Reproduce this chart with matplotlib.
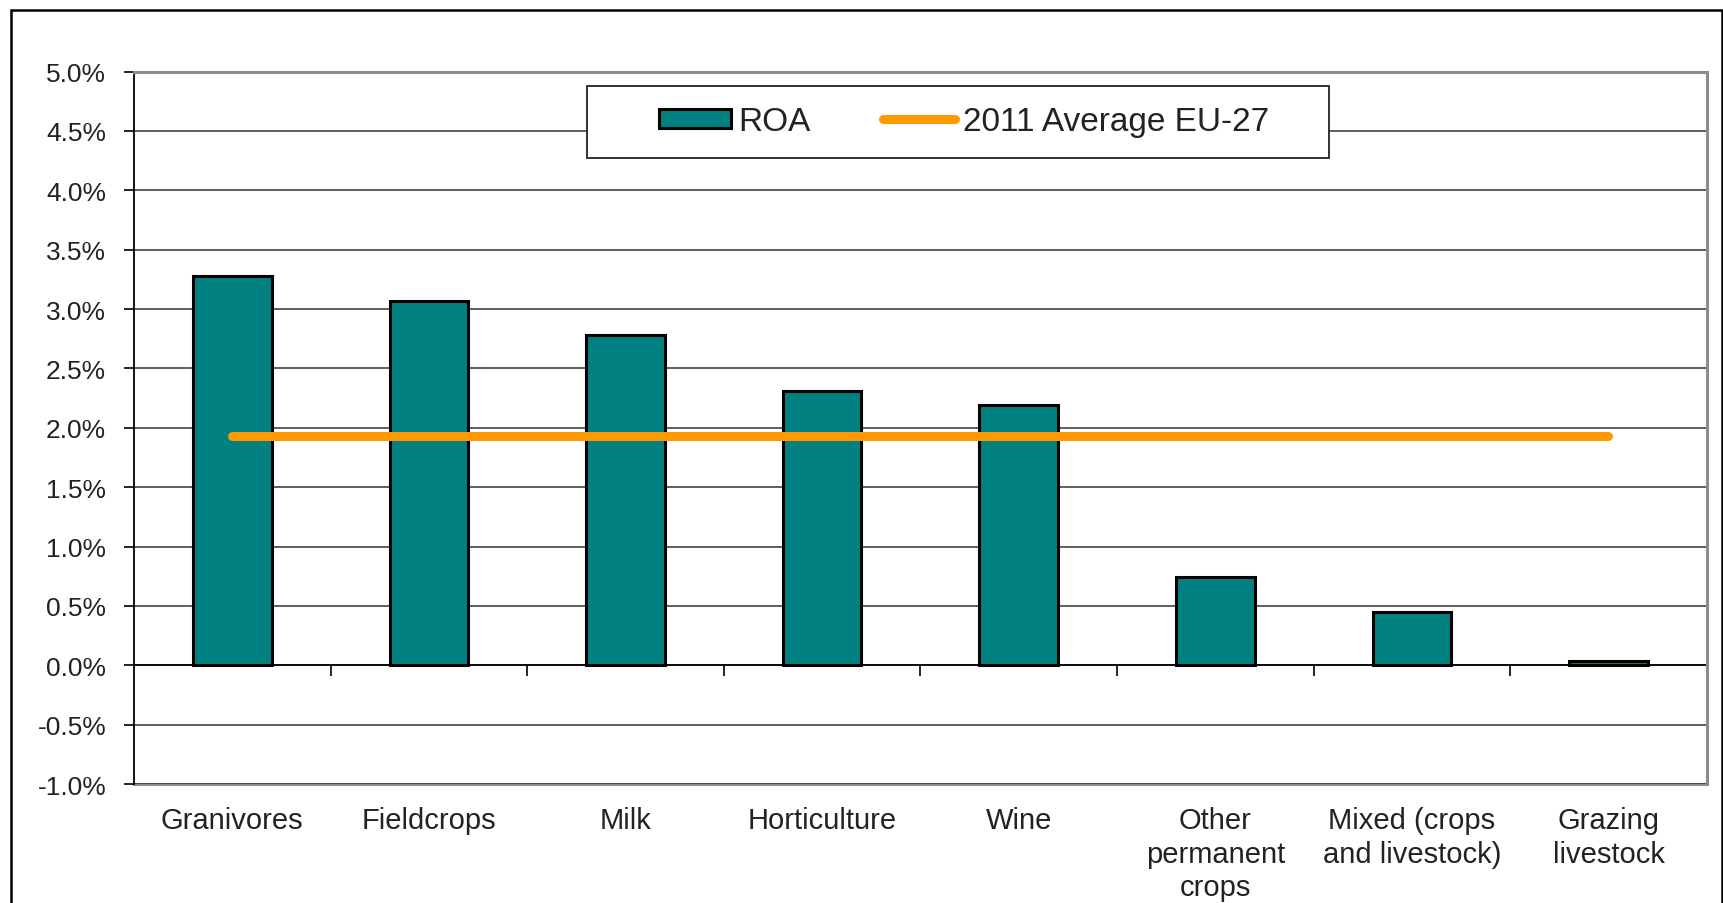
import matplotlib
matplotlib.use("Agg")
import matplotlib.pyplot as plt
from matplotlib.patches import Patch, Rectangle
from matplotlib.lines import Line2D
from matplotlib.ticker import FuncFormatter, FixedLocator

plt.rcParams['font.family'] = ['Liberation Sans', 'DejaVu Sans']

categories = ["Granivores", "Fieldcrops", "Milk", "Horticulture", "Wine",
              "Other\npermanent\ncrops", "Mixed (crops\nand livestock)",
              "Grazing\nlivestock"]
roa = [3.28, 3.07, 2.78, 2.31, 2.19, 0.74, 0.45, 0.04]
eu27_average = 1.935
y_ticks = [-1.0, -0.5, 0.0, 0.5, 1.0, 1.5, 2.0, 2.5, 3.0, 3.5, 4.0, 4.5, 5.0]

teal = "#008080"
orange = "#FF9900"
frame_gray = "#8C8C8C"
text_color = "#222222"

fig = plt.figure(figsize=(17.24, 9.04), dpi=100)
ax = fig.add_axes([0.0777, 0.1316, 0.9123, 0.7881])

x = list(range(len(categories)))
ax.bar(x, roa, width=0.4, color=teal, edgecolor="black", linewidth=2.2, zorder=3)
ax.plot([x[0], x[-1]], [eu27_average, eu27_average], color=orange, lw=6.5,
        solid_capstyle="round", zorder=4)

ax.set_xlim(-0.5, len(categories) - 0.5)
ax.set_ylim(y_ticks[0], y_ticks[-1])
ax.set_yticks(y_ticks)
ax.yaxis.set_major_formatter(FuncFormatter(lambda v, _: f"{v:.1f}%"))
ax.grid(axis="y", color="#333333", lw=1.1, zorder=1)
ax.tick_params(axis="y", direction="out", length=7, width=1.2, pad=13,
               labelsize=19, colors="black", labelcolor=text_color)

# category axis crosses at zero, with ticks between categories
ax.spines["bottom"].set_position(("data", 0))
ax.spines["bottom"].set_color("black")
ax.spines["bottom"].set_linewidth(1.2)
ax.spines["bottom"].set_zorder(2)
ax.xaxis.set_major_locator(FixedLocator([i + 0.5 for i in x]))
ax.tick_params(axis="x", direction="out", length=8, width=1.2, labelbottom=False)

ax.spines["left"].set_color("black")
ax.spines["left"].set_linewidth(1.3)
for side in ("top", "right"):
    ax.spines[side].set_color(frame_gray)
    ax.spines[side].set_linewidth(2.2)

# gray lower border of the plot area carrying the category names
sec = ax.secondary_xaxis("bottom")
sec.set_xticks(x)
sec.set_xticklabels(categories, fontsize=21, color=text_color, linespacing=1.24,
                    va="top")
sec.tick_params(axis="x", length=0, pad=16)
sec.spines["bottom"].set_color(frame_gray)
sec.spines["bottom"].set_linewidth(2.2)

# legend: wide white box with the two entries centred inside it
ax.add_patch(Rectangle((0.2879, 0.8787), 0.760 - 0.2879, 0.9798 - 0.8787,
                       transform=ax.transAxes, facecolor="white",
                       edgecolor="#222222", linewidth=1.3, zorder=5))
handles = [Patch(facecolor=teal, edgecolor="black", linewidth=2.2),
           Line2D([0], [0], color=orange, lw=6.5, solid_capstyle="round")]
leg = ax.legend(handles, ["ROA", "2011 Average EU-27"], ncol=2, loc="center",
                bbox_to_anchor=(0.5278, 0.930), fontsize=24, frameon=False,
                handlelength=2.15, handletextpad=0.24, columnspacing=2.17,
                borderpad=0.0, handleheight=0.5)
leg.set_zorder(6)
for t in leg.get_texts():
    t.set_color(text_color)

fig.patches.append(Rectangle((11 / 1724, -0.05), (1722 - 11) / 1724, 1.05 - 11 / 904,
                             transform=fig.transFigure, fill=False,
                             edgecolor="black", linewidth=1.8))

fig.savefig("out.png", dpi=100, facecolor="white")
